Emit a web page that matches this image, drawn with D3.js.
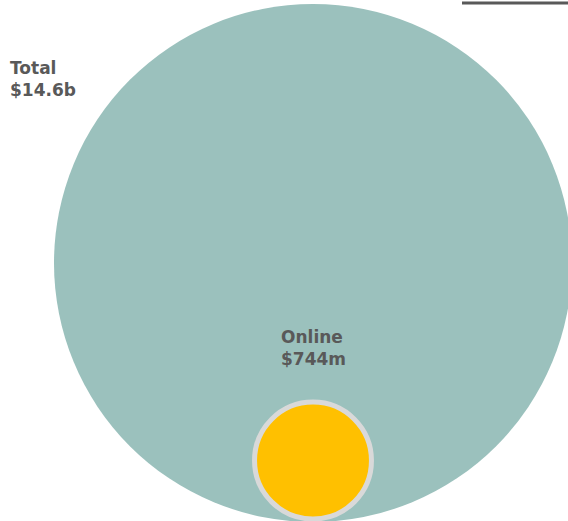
<!DOCTYPE html>
<html lang="en">
  <head>
    <meta charset="UTF-8" />
    <title>Total vs Online</title>
    <style>
      body { margin: 0; background: #fff; }
      svg { display: block; }
      .lbl { font-family: 'DejaVu Sans', sans-serif; font-weight: bold; font-size: 17px; fill: #595959; }
    </style>
  </head>
  <script src="https://cdn.jsdelivr.net/npm/d3@7"></script>
  <body>
    <div class="d3Chart"></div>
  </body>
  <script type="text/javascript">
    // values in billions
    var names = ['Total', 'Online']
    var values = [14.6, 0.744]
    var valueLabels = ['$14.6b', '$744m']
    var fills = ['#9bc1bd', '#ffc000']

    var W = 568, H = 521
    var svg = d3.select('.d3Chart').append('svg').attr('width', W).attr('height', H)

    // area-proportional radius
    var rScale = d3.scaleSqrt().domain([0, d3.max(values)]).range([0, 259])
    var cx = 313, bottom = 522

    var circles = names.map((n, i) => ({ name: n, value: values[i], label: valueLabels[i], r: rScale(values[i]), fill: fills[i] }))

    svg.selectAll('circle')
      .data(circles)
      .enter()
      .append('circle')
      .attr('cx', cx)
      .attr('cy', (d) => bottom - d.r - (d.name === 'Online' ? 3 : 0))
      .attr('r', (d) => d.r)
      .style('fill', (d) => d.fill)
      .style('stroke', (d) => (d.name === 'Online' ? '#d9d9d9' : 'none'))
      .style('stroke-width', 5)

    // top-right rule
    svg.append('rect').attr('x', 462).attr('y', 1.5).attr('width', 106).attr('height', 3).style('fill', '#595959')

    // labels
    var labelPos = [[10, 74], [281, 343]]
    circles.forEach((d, i) => {
      var t = svg.append('text').attr('class', 'lbl').attr('x', labelPos[i][0]).attr('y', labelPos[i][1])
      t.append('tspan').attr('x', labelPos[i][0]).text(d.name)
      t.append('tspan').attr('x', labelPos[i][0]).attr('dy', 22).text(d.label)
    })
  </script>
</html>
